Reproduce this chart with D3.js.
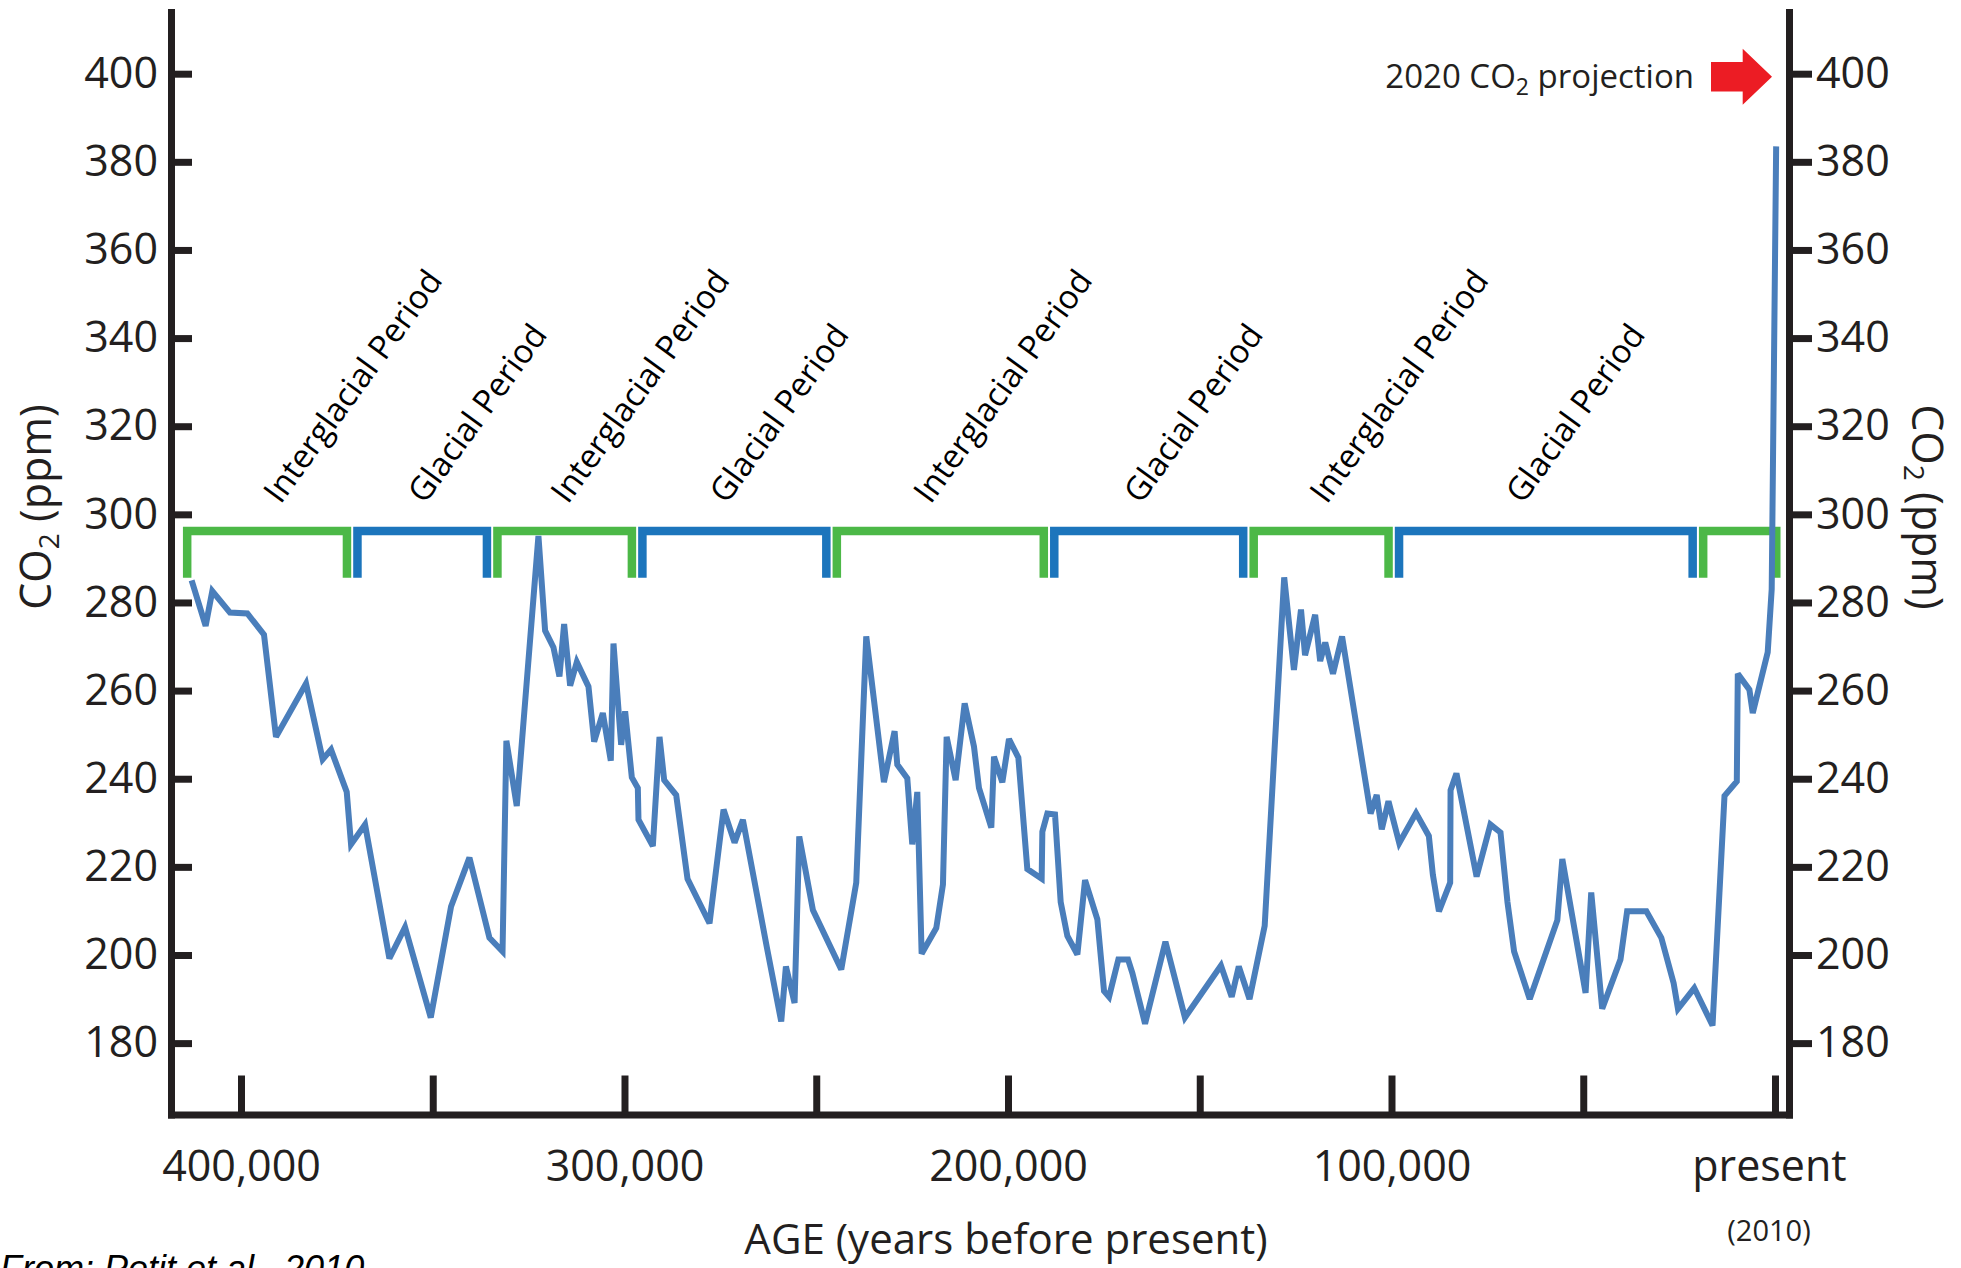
<!DOCTYPE html>
<html>
<head>
<meta charset="utf-8">
<script src="https://cdn.jsdelivr.net/npm/d3@7"></script>
<style>
  body { margin: 0; background: #fff; }
  svg { display: block; }
  text { font-family: "Open Sans", sans-serif; fill: #231f20; }
</style>
</head>
<body>
<div id="chart"></div>
<script>
// CO2 record: years before present / ppm
var ages = [
  412870, 409220, 407480, 402870, 398350, 394000, 390870, 383040, 378700, 376520,
  372430, 371300, 367650, 361300, 357220, 350520, 345220, 340430, 335220, 331800,
  330800, 328090, 322440, 320700, 318520, 316960, 315740, 314170, 312430, 309390,
  307910, 305650, 303570, 302870, 300870, 299830, 298090, 296520, 296350, 292610,
  290870, 289650, 286520, 283570, 277830, 274170, 271300, 269130, 262870, 259130,
  257910, 255650, 254430, 250870, 243480, 239570, 236960, 232350, 229570, 228870,
  226260, 224960, 223650, 222520, 218700, 216960, 216000, 213650, 211300, 208870,
  207570, 204350, 203650, 201480, 199740, 197300, 194960, 191220, 191040, 189740,
  187740, 186260, 184520, 181910, 179910, 176700, 174960, 173650, 171220, 168700,
  167570, 164260, 158950, 153860, 144470, 141670, 139820, 137020, 133070, 127980,
  125440, 123600, 122540, 119910, 118600, 117280, 115260, 112890, 105440, 103860,
  102540, 100790, 97980, 93600, 90260, 89210, 87630, 84700, 84600, 83070,
  77810, 74200, 71580, 69760, 68030, 63950, 56760, 55460, 49390, 47920,
  45060, 40290, 38560, 33540, 29640, 26430, 25300, 21050, 16290, 13170,
  9960, 9700, 6670, 5800, 1900, 860, -300
];
var co2 = [
  285.0, 274.7, 282.6, 277.7, 277.5, 272.7, 249.5, 261.6, 244.4, 246.6,
  237.0, 225.1, 229.6, 199.2, 206.3, 185.8, 211.0, 222.1, 203.9, 200.8,
  248.6, 233.8, 295.1, 273.6, 269.8, 263.2, 275.1, 261.1, 266.5, 260.9,
  248.4, 254.9, 244.1, 270.7, 247.7, 255.3, 240.3, 237.9, 230.7, 224.7,
  249.5, 239.7, 236.3, 217.3, 207.2, 233.0, 225.5, 230.7, 201.7, 184.9,
  197.4, 189.1, 226.9, 210.2, 196.7, 216.4, 272.3, 239.2, 250.8, 243.2,
  240.1, 225.1, 237.0, 200.3, 206.1, 216.0, 249.5, 239.7, 257.1, 247.3,
  237.9, 228.9, 245.0, 239.2, 249.0, 244.8, 219.5, 217.3, 228.0, 232.1,
  231.9, 212.0, 204.3, 200.1, 217.0, 208.1, 191.8, 190.5, 199.0, 199.0,
  195.9, 184.4, 203.0, 185.8, 197.6, 190.5, 197.4, 190.0, 206.6, 285.7,
  264.7, 278.4, 268.0, 277.2, 266.7, 270.9, 263.8, 272.3, 232.1, 236.3,
  228.5, 234.9, 225.4, 232.2, 227.0, 218.2, 209.9, 216.4, 237.4, 241.2,
  217.8, 229.6, 227.8, 212.0, 200.8, 190.0, 207.9, 221.8, 191.4, 214.2,
  187.8, 199.0, 209.9, 209.9, 203.9, 193.6, 187.8, 192.5, 184.0, 236.1,
  239.4, 263.8, 260.2, 254.9, 268.7, 283.0, 383.5
];

// climate periods, oldest first (boundaries in years before present)
var periodBounds = [415400, 371000, 334500, 296700, 246000, 189300, 137300, 99400, 20100, -1700];
var periodKinds = ['inter', 'glacial', 'inter', 'glacial', 'inter', 'glacial', 'inter', 'glacial', 'inter'];
var periodLabels = ['Interglacial Period', 'Glacial Period', 'Interglacial Period', 'Glacial Period',
                    'Interglacial Period', 'Glacial Period', 'Interglacial Period', 'Glacial Period', ''];
var labelAges = [389700, 352100, 314800, 273400, 220200, 165400, 116900, 65800, null];

var yTicks = [180, 200, 220, 240, 260, 280, 300, 320, 340, 360, 380, 400];
var xTicks = [400000, 350000, 300000, 250000, 200000, 150000, 100000, 50000, 0];
var xTickLabels = ['400,000', '', '300,000', '', '200,000', '', '100,000', '', 'present'];

var projectionValue = 400;

const WIDTH = 1961, HEIGHT = 1268;
const INK = '#231f20';

var svg = d3.select('#chart').append('svg')
    .attr('width', WIDTH)
    .attr('height', HEIGHT);

svg.append('rect').attr('width', WIDTH).attr('height', HEIGHT).attr('fill', '#fff');

var x = d3.scaleLinear().domain([418250, -3650]).range([171, 1789]);
var y = d3.scaleLinear().domain([163.8, 414]).range([1114.5, 12]);

// ---- period brackets
var bracketTop = y(296.2), bracketBottom = y(285.6);
var BRACKET_W = 8.5;
var periods = periodKinds.map((k, i) => ({
  kind: k,
  x0: x(periodBounds[i]),
  x1: x(periodBounds[i + 1]),
  label: periodLabels[i],
  labelAge: labelAges[i]
}));

svg.append('g').selectAll('path.bracket')
  .data(periods)
  .join('path')
    .attr('class', 'bracket')
    .attr('fill', 'none')
    .attr('stroke', (d) => d.kind == 'inter' ? '#4cb847' : '#1c75bc')
    .attr('stroke-width', BRACKET_W)
    .attr('stroke-linejoin', 'miter')
    .attr('d', (d) => {
      var inset = 1 + BRACKET_W / 2;
      var a = d.x0 + inset, b = d.x1 - inset;
      return 'M' + a + ',' + bracketBottom + 'V' + bracketTop +
             'H' + b + 'V' + bracketBottom;
    });

svg.append('g').selectAll('text.period')
  .data(periods.filter((d) => d.label))
  .join('text')
    .attr('class', 'period')
    .attr('transform', (d) => 'translate(' + x(d.labelAge) + ',' + (bracketTop - 26) + ') rotate(-54)')
    .style('font-size', '33px')
    .style('fill', '#000')
    .text((d) => d.label);

// ---- CO2 line
var points = ages.map((a, i) => ({ age: a, v: co2[i] }));
svg.append('path')
    .datum(points)
    .attr('fill', 'none')
    .attr('stroke', '#4a7ebb')
    .attr('stroke-width', 6)
    .attr('stroke-linejoin', 'miter')
    .attr('stroke-miterlimit', 3)
    .attr('d', d3.line().x((d) => x(d.age)).y((d) => y(d.v)));

// ---- axes
function styleAxis(g) {
  g.select('.domain').attr('stroke', INK).attr('stroke-width', 7)
      .attr('stroke-linecap', 'square');
  g.selectAll('.tick line').attr('stroke', INK).attr('stroke-width', 7);
  g.selectAll('.tick text').style('font-size', '43px').attr('fill', INK)
      .style('font-family', '"Open Sans", sans-serif');
}

svg.append('g')
    .attr('transform', 'translate(171,0)')
    .call(d3.axisLeft(y).tickValues(yTicks).tickSizeInner(-21).tickSizeOuter(0).tickPadding(13))
    .call(styleAxis);

svg.append('g')
    .attr('transform', 'translate(1789,0)')
    .call(d3.axisRight(y).tickValues(yTicks).tickSizeInner(23).tickSizeOuter(0).tickPadding(4))
    .call(styleAxis);

var xAxis = svg.append('g')
    .attr('transform', 'translate(0,1114.5)')
    .call(d3.axisBottom(x).tickValues(xTicks).tickSizeInner(-39).tickSizeOuter(0)
          .tickFormat((d, i) => xTickLabels[i]))
    .call(styleAxis);
xAxis.selectAll('.tick text').attr('y', 66.5).attr('dy', null)
    .attr('dx', (d) => d == 0 ? -6 : 0);

svg.selectAll('.tick text').attr('font-size', null).attr('font-family', null);

// ---- titles
svg.append('text')
    .attr('x', x(0) - 6).attr('y', 1241)
    .attr('text-anchor', 'middle')
    .style('font-size', '29px')
    .text('(2010)');

svg.append('text')
    .attr('x', 1006).attr('y', 1254)
    .attr('text-anchor', 'middle')
    .style('font-size', '42px')
    .text('AGE (years before present)');

function co2Title(sel, size) {
  sel.style('font-size', size + 'px').attr('text-anchor', 'middle');
  sel.append('tspan').text('CO');
  sel.append('tspan').attr('dy', '0.28em').style('font-size', '0.65em').text('2');
  sel.append('tspan').attr('dy', '-0.18em').text(' (ppm)');
}

svg.append('text')
    .attr('transform', 'translate(51,507) rotate(-90)')
    .call(co2Title, 43);

svg.append('text')
    .attr('transform', 'translate(1912,507) rotate(90)')
    .call(co2Title, 43);

// ---- 2020 projection marker
var tipX = x.range()[1] - 17, tipY = y(projectionValue) + 3;
svg.append('path')
    .attr('fill', '#ec1c24')
    .attr('d', 'M' + (tipX - 61) + ',' + (tipY - 14.8) +
               'H' + (tipX - 29.3) + 'V' + (tipY - 28) +
               'L' + tipX + ',' + tipY +
               'L' + (tipX - 29.3) + ',' + (tipY + 28) +
               'V' + (tipY + 14.8) + 'H' + (tipX - 61) + 'Z');

var proj = svg.append('text')
    .attr('x', tipX - 78).attr('y', 87.7)
    .attr('text-anchor', 'end')
    .style('font-size', '33px');
proj.append('tspan').text('2020 CO');
proj.append('tspan').attr('dy', '0.3em').style('font-size', '0.7em').text('2');
proj.append('tspan').attr('dy', '-0.21em').text(' projection');

// ---- source note, clipped by the bottom edge as in the original
svg.append('text')
    .attr('x', 0).attr('y', 1281)
    .style('font-family', '"Liberation Sans", Arial, sans-serif')
    .style('font-style', 'italic')
    .style('font-size', '36px')
    .style('fill', '#000')
    .text('From: Petit et al., 2010');
</script>
</body>
</html>
